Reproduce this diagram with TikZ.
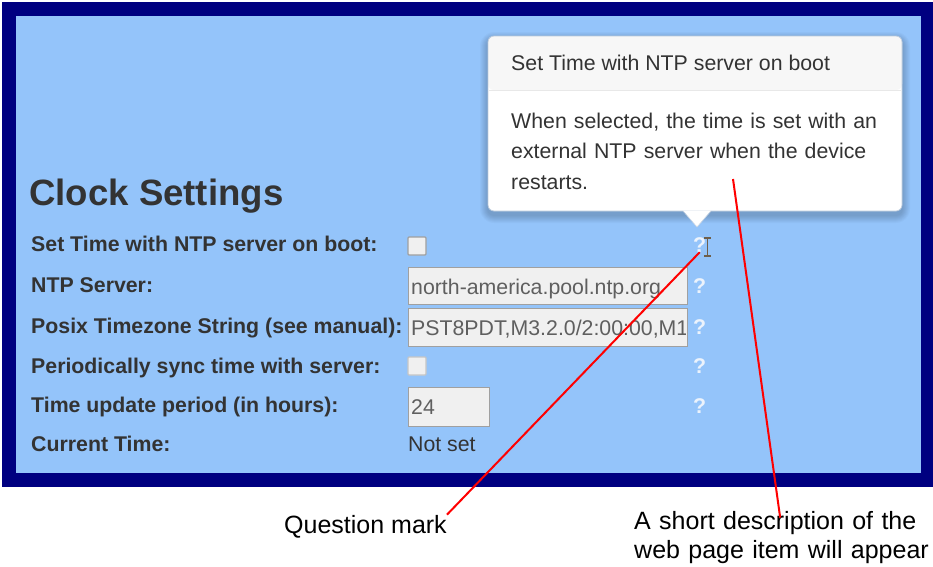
\documentclass[tikz,border=0pt]{standalone}
\usepackage{fontspec}
\setmainfont{Liberation Sans}
\usetikzlibrary{positioning}
\definecolor{framenavy}{RGB}{0,0,128}
\definecolor{panelblue}{RGB}{148,196,250}
\definecolor{labelgray}{RGB}{51,51,51}
\definecolor{valuegray}{RGB}{95,95,95}
\definecolor{fieldfill}{RGB}{240,240,240}
\definecolor{fieldedge}{RGB}{160,160,160}
\definecolor{helpwhite}{RGB}{236,243,252}
\definecolor{headfill}{RGB}{247,247,247}
\definecolor{headline}{RGB}{232,232,232}
\definecolor{tipedge}{RGB}{120,150,185}
\definecolor{cursorbrown}{RGB}{110,95,75}
\tikzset{field/.style={draw=fieldedge,fill=fieldfill,line width=1.4pt,anchor=north west,inner sep=0pt},
  tickbox/.style={draw=fieldedge,fill=fieldfill,line width=1.2pt,rounded corners=1pt,minimum size=18pt,inner sep=0pt},
}

\begin{document}
\begin{tikzpicture}[x=1pt,y=-1pt,
  setting/.style={anchor=base west,inner sep=0pt,text=labelgray,font=\bfseries\fontsize{21.3}{25}\selectfont},
  value/.style={anchor=base west,inner sep=0pt,text=valuegray,font=\fontsize{21.3}{25}\selectfont},
  help/.style={anchor=base west,inner sep=0pt,text=helpwhite,font=\bfseries\fontsize{21.3}{25}\selectfont},
  tiptext/.style={anchor=base west,inner sep=0pt,text=labelgray,font=\fontsize{21.3}{30.5}\selectfont},
  note/.style={anchor=base west,inner sep=0pt,font=\fontsize{25}{29}\selectfont},
  pointer/.style={draw=red,line width=2pt}]

\useasboundingbox (0,0) rectangle (933,566);
\fill[white] (0,0) rectangle (933,566);
\fill[framenavy] (2,2) rectangle (933,487);
\fill[panelblue] (16,16) rectangle (921,473);

\node[setting,font=\bfseries\fontsize{36.6}{40}\selectfont] (title) at (29,205) {Clock Settings};
\node[setting] (boot) at (31,251) {Set Time with NTP server on boot:};
\node[setting] (server) at (31,292) {NTP Server:};
\node[setting] (posix) at (31,333) {Posix Timezone String (see manual):};
\node[setting] (sync) at (31,373) {Periodically sync time with server:};
\node[setting] (period) at (31,412) {Time update period (in hours):};
\node[setting] (now) at (31,451) {Current Time:};

\node[tickbox] (bootbox) at (417,246) {};
\node[field,minimum width=279pt,minimum height=37pt] (serverfield) at (408,267) {};
\node[field,minimum width=279pt,minimum height=38pt] (posixfield) at (408,308) {};
\node[tickbox,draw=fieldedge!60] (syncbox) at (417,366) {};
\node[field,minimum width=81pt,minimum height=39pt] (periodfield) at (408,387) {};

\node[value] (serverval) at (411,294) {north-america.pool.ntp.org};
\begin{scope}
  \clip (409,309) rectangle (685,345);
  \node[value] (posixval) at (411,335) {PST8PDT,M3.2.0/2:00:00,M1};
\end{scope}
\node[value] (periodval) at (411,414) {24};
\node[value,text=labelgray] (nowval) at (408,451) {Not set};

\node[help] (q1) at (693,252) {?};
\node[help] (q2) at (693,293) {?};
\node[help] (q3) at (693,334) {?};
\node[help] (q4) at (693,373) {?};
\node[help] (q5) at (693,413) {?};
\draw[cursorbrown,line width=1.1pt] (707.5,238) -- (707.5,256)
  (704,238) -- (711,238) (704,256) -- (711,256);

% popover
\foreach \s in {1,...,8} {
  \pgfmathsetmacro\r{6+\s}
  \fill[black,opacity=0.022,rounded corners=\r pt] (488-\s,40-\s) rectangle (902+\s,215+\s);
}
\fill[white,rounded corners=6pt] (488,36) rectangle (902,211);
\fill[headfill,rounded corners=6pt] (488,90) -- (488,36) -- (902,36) -- (902,90) -- cycle;
\draw[headline,line width=1pt] (489,90) -- (901,90);
\draw[tipedge!50,line width=0.8pt,rounded corners=6pt] (488,36) rectangle (902,211);
\fill[white] (683,210.5) -- (697,227) -- (711,210.5) -- cycle;
\draw[tipedge!40,line width=0.6pt] (683,211) -- (697,227) -- (711,211);

\node[tiptext] (tiptitle) at (511,70) {Set Time with NTP server on boot};
\node[tiptext,text width=385pt,align=left] (tipbody) at (511,128)
  {When selected, the time is set with an\\external NTP server when the device\\restarts.};
\coordinate (tipspot) at (733,179);

\node[note] (qmark) at (284,533) {Question mark};
\node[note,text width=310pt,align=left] (desc) at (634,529)
  {A short description of the\\web page item will appear};

\path[pointer] (qmark.north east) edge (q1.south)
  ([xshift=-10pt]desc.north) edge[shorten <=-7pt] (tipspot);
\end{tikzpicture}
\end{document}
